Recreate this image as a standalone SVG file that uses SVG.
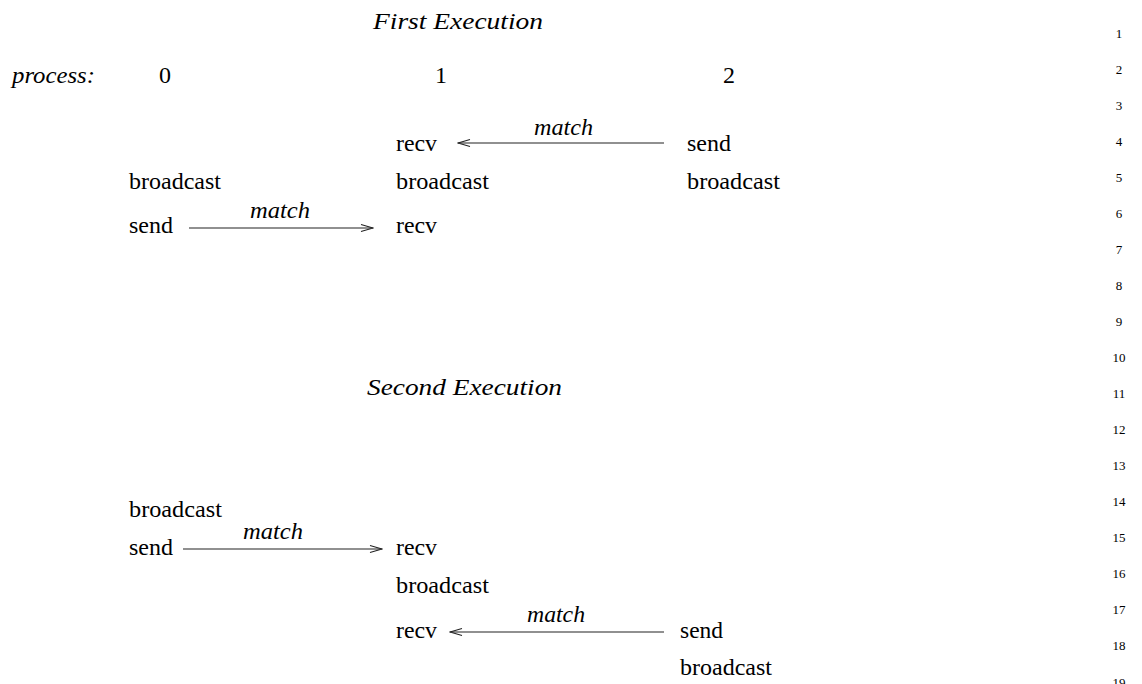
<svg xmlns="http://www.w3.org/2000/svg" width="1142" height="684" viewBox="0 0 1142 684">
<style>
text{font-family:"Liberation Serif","Times New Roman",serif;fill:#000}
.r{font-size:24px}
.i{font-size:24px;font-style:italic}
.t{font-size:24px;font-style:italic}
.n{font-size:13px;text-anchor:middle}
.c{text-anchor:middle}
.conn{stroke:#222;stroke-width:1.1;fill:none}
</style>
<defs>
<marker id="chev" markerUnits="userSpaceOnUse" markerWidth="14" markerHeight="10" viewBox="-13 -5 14 10" refX="0" refY="0" orient="auto">
<path d="M-12,-3.5 L0,0 L-12,3.5" fill="none" stroke="#222" stroke-width="1.1"/>
</marker>
</defs>
<rect width="1142" height="684" fill="#fff"/>
<g id="titles">
<text class="t" x="373" y="29" textLength="170" lengthAdjust="spacingAndGlyphs">First Execution</text>
<text class="t" x="367" y="395" textLength="195" lengthAdjust="spacingAndGlyphs">Second Execution</text>
</g>
<g id="header">
<text class="i" x="12" y="83" textLength="83" lengthAdjust="spacingAndGlyphs">process:</text>
<text class="r c" x="165" y="83">0</text>
<text class="r c" x="441" y="83">1</text>
<text class="r c" x="729" y="83">2</text>
</g>
<g id="first-execution">
<g id="e1-p1-recv"><text class="r" x="396" y="151" textLength="41" lengthAdjust="spacingAndGlyphs">recv</text></g>
<g id="e1-p2-send"><text class="r" x="687" y="151" textLength="44" lengthAdjust="spacingAndGlyphs">send</text></g>
<g id="e1-p0-broadcast"><text class="r" x="129" y="189" textLength="92" lengthAdjust="spacingAndGlyphs">broadcast</text></g>
<g id="e1-p1-broadcast"><text class="r" x="396" y="189" textLength="93" lengthAdjust="spacingAndGlyphs">broadcast</text></g>
<g id="e1-p2-broadcast"><text class="r" x="687" y="189" textLength="93" lengthAdjust="spacingAndGlyphs">broadcast</text></g>
<g id="e1-p0-send"><text class="r" x="129" y="233" textLength="44" lengthAdjust="spacingAndGlyphs">send</text></g>
<g id="e1-p1-recv2"><text class="r" x="396" y="233" textLength="41" lengthAdjust="spacingAndGlyphs">recv</text></g>
</g>
<g id="second-execution">
<g id="e2-p0-broadcast"><text class="r" x="129" y="517" textLength="93" lengthAdjust="spacingAndGlyphs">broadcast</text></g>
<g id="e2-p0-send"><text class="r" x="129" y="555" textLength="44" lengthAdjust="spacingAndGlyphs">send</text></g>
<g id="e2-p1-recv"><text class="r" x="396" y="555" textLength="41" lengthAdjust="spacingAndGlyphs">recv</text></g>
<g id="e2-p1-broadcast"><text class="r" x="396" y="593" textLength="93" lengthAdjust="spacingAndGlyphs">broadcast</text></g>
<g id="e2-p1-recv2"><text class="r" x="396" y="638" textLength="41" lengthAdjust="spacingAndGlyphs">recv</text></g>
<g id="e2-p2-send"><text class="r" x="680" y="638" textLength="43" lengthAdjust="spacingAndGlyphs">send</text></g>
<g id="e2-p2-broadcast"><text class="r" x="680" y="675" textLength="92" lengthAdjust="spacingAndGlyphs">broadcast</text></g>
</g>
<g id="connectors">
<line class="conn" x1="664" y1="143" x2="458" y2="143" marker-end="url(#chev)"/>
<text class="i" x="534" y="135" textLength="59" lengthAdjust="spacingAndGlyphs">match</text>
<line class="conn" x1="189" y1="228" x2="373" y2="228" marker-end="url(#chev)"/>
<text class="i" x="250" y="218" textLength="60" lengthAdjust="spacingAndGlyphs">match</text>
<line class="conn" x1="183" y1="549" x2="382" y2="549" marker-end="url(#chev)"/>
<text class="i" x="243" y="539" textLength="60" lengthAdjust="spacingAndGlyphs">match</text>
<line class="conn" x1="664" y1="632" x2="450" y2="632" marker-end="url(#chev)"/>
<text class="i" x="527" y="622" textLength="58" lengthAdjust="spacingAndGlyphs">match</text>
</g>
<g id="line-numbers">
<text class="n" x="1119" y="38">1</text>
<text class="n" x="1119" y="74">2</text>
<text class="n" x="1119" y="110">3</text>
<text class="n" x="1119" y="146">4</text>
<text class="n" x="1119" y="182">5</text>
<text class="n" x="1119" y="218">6</text>
<text class="n" x="1119" y="254">7</text>
<text class="n" x="1119" y="290">8</text>
<text class="n" x="1119" y="326">9</text>
<text class="n" x="1119" y="362">10</text>
<text class="n" x="1119" y="398">11</text>
<text class="n" x="1119" y="434">12</text>
<text class="n" x="1119" y="470">13</text>
<text class="n" x="1119" y="506">14</text>
<text class="n" x="1119" y="542">15</text>
<text class="n" x="1119" y="578">16</text>
<text class="n" x="1119" y="614">17</text>
<text class="n" x="1119" y="650">18</text>
<text class="n" x="1119" y="687">19</text>
</g>
</svg>
